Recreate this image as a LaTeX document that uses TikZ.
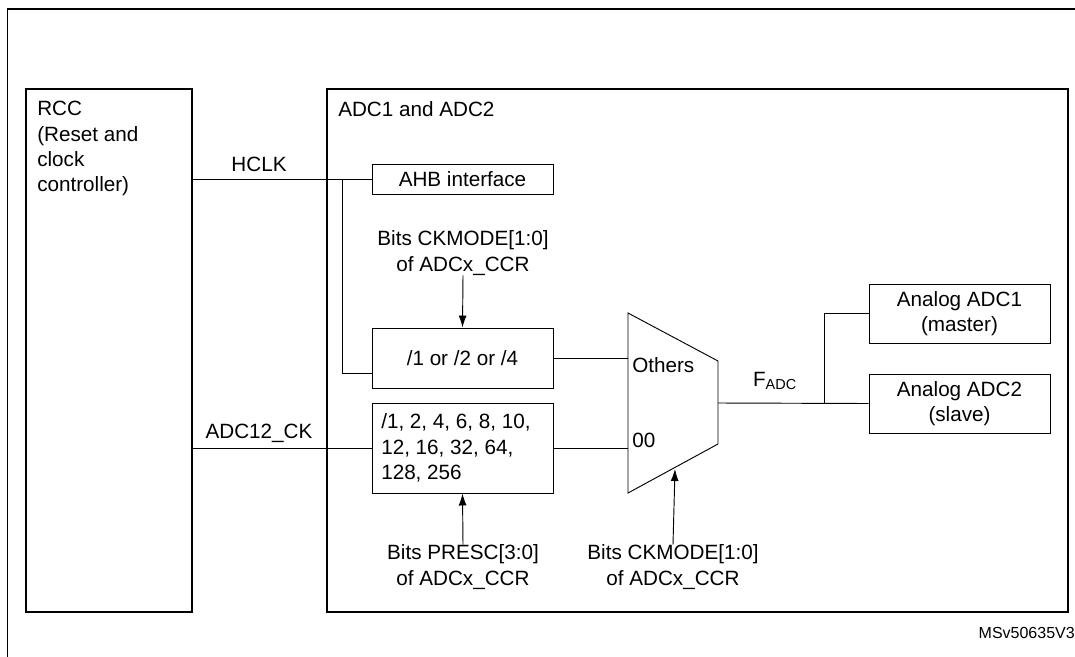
\documentclass[tikz,border=0pt]{standalone}
\usepackage{fontspec}
\setmainfont{Liberation Sans}
\usetikzlibrary{positioning,arrows.meta}

\begin{document}
\begin{tikzpicture}[x=0.75pt, y=-0.75pt,
font=\fontsize{15.5}{19}\selectfont,
bigbox/.style={rectangle, draw=black, line width=1.3pt, inner sep=0pt},
smallbox/.style={rectangle, draw=black, line width=0.7pt, inner sep=0pt, align=center},
lbl/.style={inner sep=0pt, align=center},
wire/.style={line width=0.7pt},
ctrl/.style={line width=0.7pt, -{Latex[length=9pt, width=6pt]}},
]
\useasboundingbox (0,0) rectangle (1075,657);
%Frame
\draw[line width=1.3pt] (7.5,657) -- (7.5,9) -- (1075,9);

%Nodes
\node[bigbox, minimum width=166*0.75pt, minimum height=523*0.75pt] (rcc) at (109,350.5) {};
\node[lbl, align=left, anchor=north west] (rcctxt) at (37,101) {RCC\\(Reset and\\clock\\controller)};
\node[bigbox, minimum width=741*0.75pt, minimum height=523*0.75pt] (adc) at (697.5,350.5) {};
\node[lbl, anchor=north west] (adctxt) at (338,101) {ADC1 and ADC2};
\node[smallbox, minimum width=181*0.75pt, minimum height=30*0.75pt] (ahb) at (462.5,179) {AHB interface};
\node[smallbox, minimum width=181*0.75pt, minimum height=60*0.75pt] (div1) at (462.5,358) {/1 or /2 or /4};
\node[smallbox, minimum width=181*0.75pt, minimum height=90*0.75pt] (div2) at (462.5,448) {};
\node[lbl, align=left, anchor=west] (div2txt) at (381,448) {/1, 2, 4, 6, 8, 10,\\12, 16, 32, 64,\\128, 256};
\node[smallbox, minimum width=181*0.75pt, minimum height=59*0.75pt] (ana1) at (959.5,313.5) {Analog ADC1\\(master)};
\node[smallbox, minimum width=181*0.75pt, minimum height=59*0.75pt] (ana2) at (959.5,403.5) {Analog ADC2\\(slave)};
\node[lbl] (ckmode1) at (463,253) {Bits CKMODE[1:0]\\of ADCx\_CCR};
\node[lbl] (presc) at (463,567) {Bits PRESC[3:0]\\of ADCx\_CCR};
\node[lbl] (ckmode2) at (673,567) {Bits CKMODE[1:0]\\of ADCx\_CCR};
\node[lbl] (hclk) at (259,164) {HCLK};
\node[lbl] (adcck) at (259,433) {ADC12\_CK};
\node[lbl, anchor=west] (others) at (632,365) {Others};
\node[lbl, anchor=west] (zero) at (632,440) {00};
\node[lbl] (fadc) at (775,381) {F\textsubscript{ADC}};
\node[lbl, anchor=east, font=\fontsize{12}{14}\selectfont] (ref) at (1075,633) {MSv50635V3};

%Mux
\coordinate (m1) at (628,313);
\coordinate (m2) at (718,361);
\coordinate (m3) at (718,444);
\coordinate (m4) at (628,493);
\draw[wire] (m1) -- (m2) -- (m3) -- (m4) -- cycle;
\coordinate (muxout) at (718,403);
\coordinate (split) at (342,179);
\coordinate (tap) at (824,403);
\coordinate (sel) at (675,469);

%Lines
\draw[wire] (rcc.east |- ahb) -- (ahb.west);
\draw[wire] (split) |- ([yshift=-15*0.75pt]div1.west);
\draw[wire] (rcc.east |- div2) -- (div2.west);
\draw[wire] (div1.east) -- (div1.east -| m1);
\draw[wire] (div2.east) -- (div2.east -| m1);
\draw[wire] (muxout) -- (ana2.west);
\draw[wire] (tap) |- (ana1.west);
\draw[ctrl] (ckmode1.south) -- (div1.north);
\draw[ctrl] (presc.north) -- (div2.south);
\draw[ctrl] (ckmode2.north) -- (sel);
\end{tikzpicture}
\end{document}
